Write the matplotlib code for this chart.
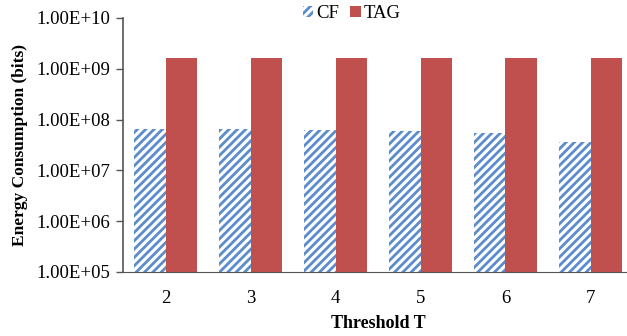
import numpy as np
import matplotlib.pyplot as plt
import matplotlib.ticker as mticker

plt.rcParams['font.family'] = ['Liberation Serif', 'DejaVu Serif']
plt.rcParams['hatch.linewidth'] = 2.0
plt.rcParams['hatch.color'] = '#5b8ccb'

thresholds = ['2', '3', '4', '5', '6', '7']
cf = [6.5e7, 6.5e7, 6.3e7, 6.0e7, 5.4e7, 3.6e7]
tag = [1.61e9, 1.61e9, 1.61e9, 1.61e9, 1.61e9, 1.61e9]
ytick_vals = [1e5, 1e6, 1e7, 1e8, 1e9, 1e10]

fig = plt.figure(figsize=(6.27, 3.36), dpi=100)
ax = fig.add_axes([123/627, 1 - 272/336, 510/627, 254/336])

x = np.arange(len(thresholds))
w = 0.37
ax.bar(x - w/2, cf, w, color='white', edgecolor='#5b8ccb', linewidth=0,
       hatch='////', label='CF')
ax.bar(x + w/2, tag, w, color='#c0504d', label='TAG')

ax.set_yscale('log')
ax.set_ylim(1e5, 1e10)
ax.set_xlim(-0.5, len(thresholds) - 0.5)
ax.set_yticks(ytick_vals)
ax.yaxis.set_major_formatter(mticker.FuncFormatter(
    lambda v, p: '%.2fE+%02d' % (1.0, round(np.log10(v)))))
ax.yaxis.set_minor_locator(mticker.NullLocator())
ax.set_xticks(x)
ax.set_xticklabels(thresholds)
ax.tick_params(axis='x', length=0, pad=13, labelsize=13.5)
ax.tick_params(axis='y', length=5, width=1, color='#555555', labelsize=13.5, pad=4)

for s in ['top', 'right']:
    ax.spines[s].set_visible(False)
ax.spines['left'].set_color('#555555')
ax.spines['bottom'].set_color('#555555')
ax.spines['left'].set_linewidth(1.2)

ax.set_xlabel('Threshold T', fontsize=13, fontweight='bold', labelpad=6)
ax.set_ylabel('Energy Consumption (bits)', fontsize=12.5, fontweight='bold', labelpad=6)

fig.legend(loc='upper center', bbox_to_anchor=(0.561, 1.035), ncol=2, frameon=False,
           fontsize=13.5, handlelength=0.55, handleheight=0.55, handletextpad=0.15,
           columnspacing=0.62)

fig.savefig('out.png', dpi=100)
